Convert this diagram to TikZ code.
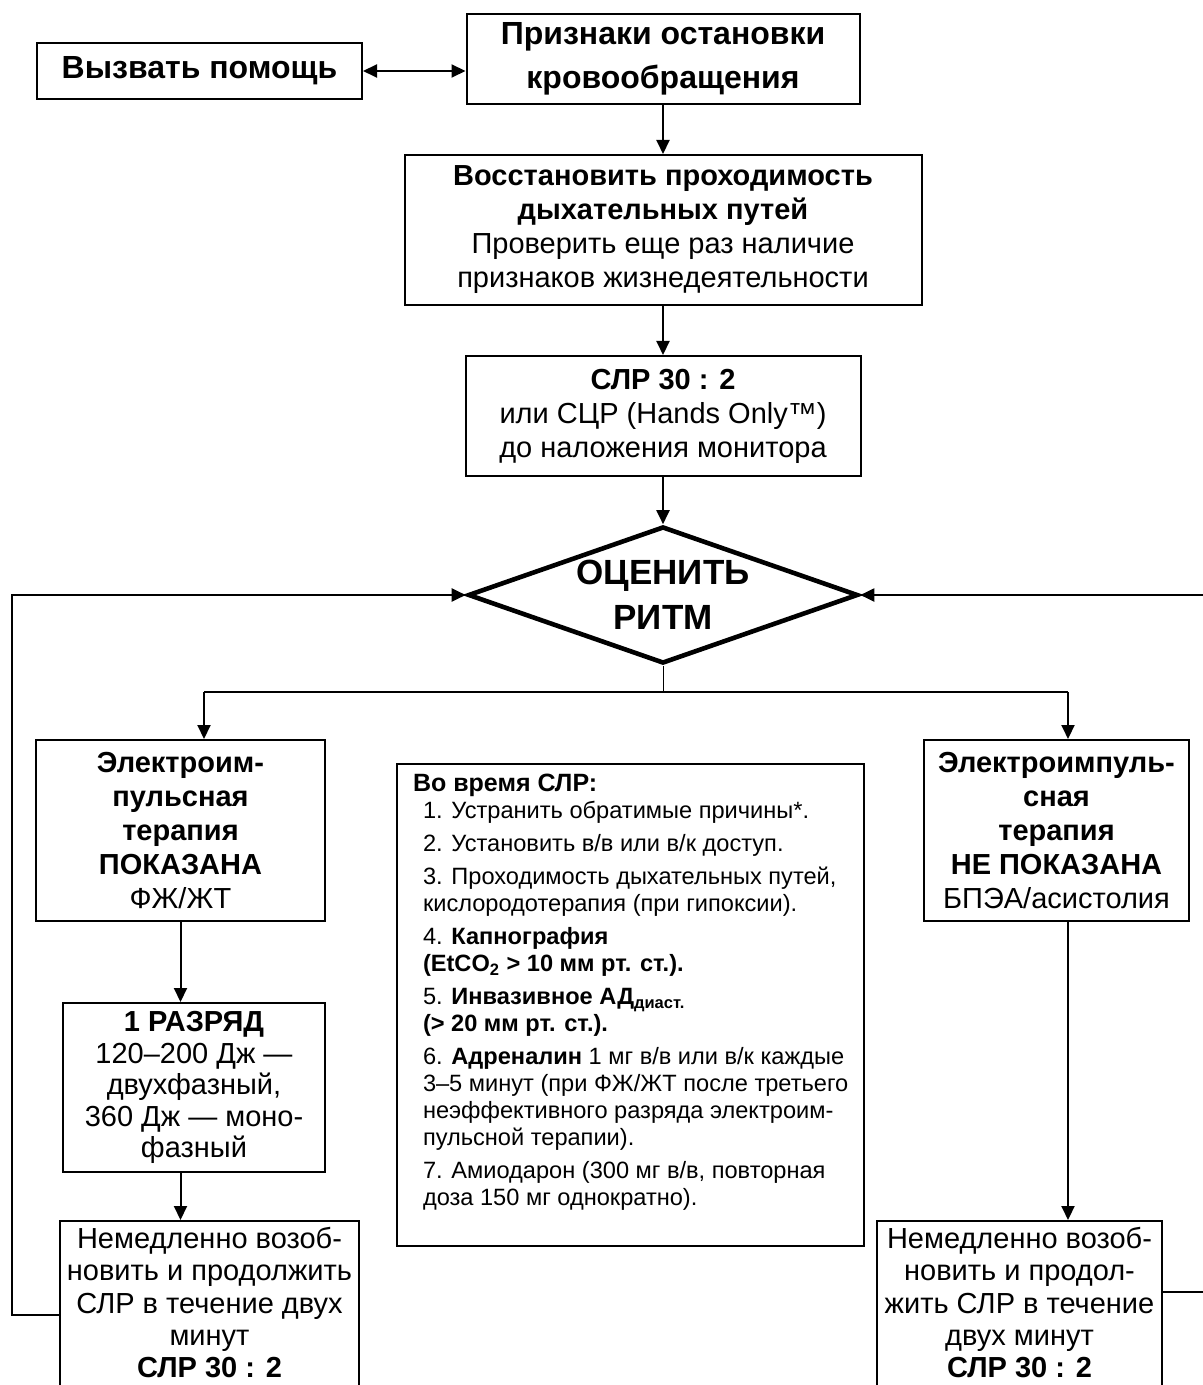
\documentclass[tikz,border=0pt]{standalone}
\usepackage{fontspec}
\setmainfont{Liberation Sans}
\usetikzlibrary{arrows.meta,shapes.geometric}

\begin{document}
\begin{tikzpicture}[x=0.5pt,y=-0.5pt,
  >={Triangle[length=7pt,width=6.5pt]},
  box/.style={draw, line width=1pt, align=center, inner sep=0pt},
  big/.style={font=\fontsize{16}{22}\selectfont\bfseries},
  txt/.style={font=\fontsize{14.5}{17}\selectfont},
  arr/.style={line width=1pt, ->},
  link/.style={line width=1pt}]
\useasboundingbox (0,0) rectangle (1203,1385);

% top of the chart
\node[box, big, minimum width=162.5pt, minimum height=28pt] (help) at (199.5,71) {Вызвать помощь};
\node[box, big, minimum width=196.5pt, minimum height=45pt] (signs) at (663,59) {Признаки остановки\\кровообращения};
\node[box, txt, minimum width=258.5pt, minimum height=75pt] (airway) at (663,230) {\textbf{Восстановить проходимость}\\\textbf{дыхательных путей}\\Проверить еще раз наличие\\признаков жизнедеятельности};
\node[box, txt, minimum width=197.5pt, minimum height=60pt] (cpr) at (663,416) {\textbf{СЛР 30 : 2}\\или СЦР (Hands Only™)\\до наложения монитора};
\node[diamond, draw, line width=2.3pt, inner sep=-30pt, minimum width=195pt, minimum height=68.5pt, font=\fontsize{17.5}{22.5}\selectfont\bfseries, align=center] (rhythm) at (663,595) {ОЦЕНИТЬ\\РИТМ};

\draw[link, <->] (help.east) -- (help.east -| signs.west);
\draw[arr] (signs) -- (airway);
\draw[arr] (airway) -- (cpr);
\draw[arr] (cpr) -- (rhythm);

% two branches
\coordinate (splitL) at (204,692);
\coordinate (splitR) at (1068,692);
\draw[line width=0.5pt] (rhythm.south) -- (rhythm.south |- splitL);
\draw[link] (splitL) -- (splitR);

\node[box, txt, minimum width=144.5pt, minimum height=90.5pt] (yes) at (180.5,830.5) {\textbf{Электроим-}\\\textbf{пульсная}\\\textbf{терапия}\\\textbf{ПОКАЗАНА}\\ФЖ/ЖТ};
\node[box, txt, minimum width=132.5pt, minimum height=90.5pt] (no) at (1056.5,830.5) {\textbf{Электроимпуль-}\\\textbf{сная}\\\textbf{терапия}\\\textbf{НЕ ПОКАЗАНА}\\БПЭА/асистолия};
\draw[arr] (splitL) -- (splitL |- yes.north);
\draw[arr] (splitR) -- (splitR |- no.north);

\node[box, anchor=north west] (during) at (396,763) {\parbox[c][241pt][t]{233.5pt}{%
  \fontsize{11.8}{13.5}\selectfont\raggedright\leftskip=8pt\parskip=0pt
  \vspace*{5pt}
  {\bfseries\fontsize{12.5}{14}\selectfont Во время СЛР:\par}
  \vspace{-3pt}
  \leftskip=13pt\parskip=3pt
  1. Устранить обратимые причины*.\par
  2. Установить в/в или в/к доступ.\par
  3. Проходимость дыхательных путей,\\кислородотерапия (при гипоксии).\par
  4. \textbf{Капнография}\\\textbf{(EtCO\textsubscript{2} > 10 мм рт. ст.).}\par
  5. \textbf{Инвазивное АД\textsubscript{диаст.}}\\\textbf{(> 20 мм рт. ст.).}\par
  6. \textbf{Адреналин} 1 мг в/в или в/к каждые\\3–5 минут (при ФЖ/ЖТ после третьего\\неэффективного разряда электроим-\\пульсной терапии).\par
  7. Амиодарон (300 мг в/в, повторная\\доза 150 мг однократно).\par}};

% shock side, boxes run on past the lower edge
\node[box, minimum width=131pt, minimum height=84.5pt, font=\fontsize{14.5}{15.8}\selectfont] (shock) at (194,1087.5) {\textbf{1 РАЗРЯД}\\120–200 Дж —\\двухфазный,\\360 Дж — моно-\\фазный};
\node[box, anchor=north, minimum width=149.5pt, inner ysep=3pt, font=\fontsize{14.5}{16.2}\selectfont] (resumeL) at (209.5,1220) {Немедленно возоб-\\новить и продолжить\\СЛР в течение двух\\минут\\\textbf{СЛР 30 : 2}\\\mbox{}};
\node[box, anchor=north, minimum width=142.5pt, inner ysep=3pt, font=\fontsize{14.5}{16.2}\selectfont] (resumeR) at (1019.5,1220) {Немедленно возоб-\\новить и продол-\\жить СЛР в течение\\двух минут\\\textbf{СЛР 30 : 2}\\\mbox{}};

\draw[arr] (yes.south) -- (yes.south |- shock.north);
\draw[arr] (yes.south |- shock.south) -- (yes.south |- resumeL.north);
\draw[arr] (splitR |- no.south) -- (splitR |- resumeR.north);

% loops back to the rhythm check
\coordinate (loopL) at (12,1315);
\coordinate (loopR) at (1215,1292);
\draw[arr] (resumeL.west |- loopL) -- (loopL) |- (rhythm.west);
\draw[arr] (resumeR.east |- loopR) -- (loopR) |- (rhythm.east);
\end{tikzpicture}
\end{document}
